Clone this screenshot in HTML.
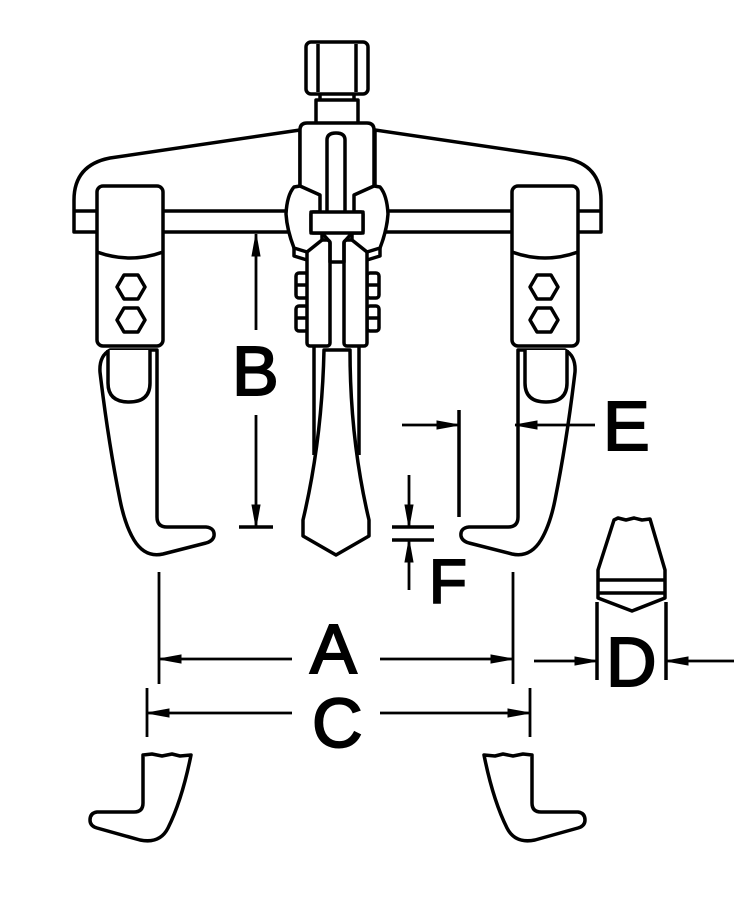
<!DOCTYPE html>
<html><head><meta charset="utf-8"><style>
html,body{margin:0;padding:0;background:#fff}
svg{display:block}
text{font-family:"Liberation Sans",sans-serif;fill:#000;stroke:#000;stroke-width:2}
</style></head><body>
<svg width="734" height="900" viewBox="0 0 734 900" xmlns="http://www.w3.org/2000/svg">
<defs>
<g id="half" fill="#fff" stroke="#000" stroke-width="3.5" stroke-linejoin="round">
  <path d="M300,130 L110,158 Q74,165 74,200 L74,232 L300,232 Z"/>
  <line x1="74" y1="211" x2="300" y2="211"/>
  <path d="M157,350 L157,517 Q157,527 167,527 L206,527 Q215,528 214,536 Q213,541 206,543 L163,554 Q145,558 134,540 Q125,525 120,500 Q108,440 100,372 Q99,356 110,350 Z"/>
  <path d="M108,350 L108,383 Q108,402 129,402 Q150,402 150,383 L150,350"/>
  <rect x="97" y="186" width="66" height="160" rx="6"/>
  <path d="M97,252 Q130,264 163,252" fill="none"/>
  <polygon points="117,287 124,275 138,275 145,287 138,299 124,299"/>
  <polygon points="117,320 124,308 138,308 145,320 138,332 124,332"/>
  <rect x="296" y="273" width="12" height="25" rx="3"/>
  <line x1="296" y1="285" x2="308" y2="285"/>
  <rect x="296" y="306" width="12" height="25" rx="3"/>
  <line x1="296" y1="318" x2="308" y2="318"/>
  <path d="M143,755 L143,803 Q143,812 134,812 L97,812 Q90,813 90,820 Q90,826 97,828 L140,840 Q160,844 168,828 Q182,800 191,755 L180,756 L172,754 L162,756 L152,754 Z"/>
</g>
</defs>

<use href="#half"/>
<use href="#half" transform="translate(675,0) scale(-1,1)"/>

<g fill="#fff" stroke="#000" stroke-width="3.5" stroke-linejoin="round">
  <rect x="320" y="92" width="34" height="9"/>
  <rect x="316" y="100" width="42" height="24"/>
  <rect x="306" y="42" width="62" height="52" rx="5"/>
  <line x1="318" y1="44" x2="318" y2="92"/>
  <line x1="356" y1="44" x2="356" y2="92"/>
  <path d="M300,190 L300,130 Q300,123 307,123 L367,123 Q374,123 374,130 L374,190"/>
  <path d="M314,345 L314,455"/>
  <path d="M359,345 L359,455"/>
  <rect x="307" y="240" width="23" height="106" rx="3"/>
  <rect x="344" y="240" width="23" height="106" rx="3"/>
  <path d="M300,186 L320,195 L320,212 L311,212 L311,233 L322,233 L322,240 L307,252 L294,248 Q287,230 286,214 Q287,195 294,187 Z"/>
  <path d="M374,186 L354,195 L354,212 L363,212 L363,233 L352,233 L352,240 L367,252 L380,248 Q387,230 388,214 Q387,195 380,187 Z"/>
  <path d="M294,248 L294,256 L307,260" fill="none"/>
  <path d="M380,248 L380,256 L367,260" fill="none"/>
  <path d="M327,212 L327,140 Q327,133 336,133 Q345,133 345,140 L345,212"/>
  <rect x="311" y="212" width="52" height="21" rx="2"/>
  <path d="M322,233 L330,242 L330,262 L344,262 L344,242 L352,233" fill="none"/>
  <path d="M324,350 Q322,440 303,520 L303,536 L336,555 L369,536 L369,520 Q350,440 350,350 Z"/>
  <path d="M614,520 L618,518 L626,520 L634,518 L642,520 L650,519 L665,570 L665,598 L632,611 L598,598 L598,570 Z"/>
  <line x1="598" y1="580" x2="665" y2="580"/>
  <line x1="598" y1="593" x2="665" y2="593"/>
</g>

<g stroke="#000" stroke-width="2.8" fill="none">
  <line x1="256" y1="234" x2="256" y2="330"/>
  <line x1="256" y1="415" x2="256" y2="527"/>
  <line x1="239" y1="527" x2="273" y2="527" stroke-width="3.5"/>
  <line x1="402" y1="425" x2="459" y2="425"/>
  <line x1="459" y1="410" x2="459" y2="517" stroke-width="3.5"/>
  <line x1="515" y1="425" x2="595" y2="425"/>
  <line x1="409" y1="475" x2="409" y2="527"/>
  <line x1="392" y1="527" x2="434" y2="527" stroke-width="3.5"/>
  <line x1="392" y1="540" x2="434" y2="540" stroke-width="3.5"/>
  <line x1="409" y1="540" x2="409" y2="590"/>
  <line x1="159" y1="572" x2="159" y2="684"/>
  <line x1="513" y1="572" x2="513" y2="684"/>
  <line x1="159" y1="659" x2="292" y2="659"/>
  <line x1="380" y1="659" x2="513" y2="659"/>
  <line x1="147" y1="688" x2="147" y2="737"/>
  <line x1="530" y1="688" x2="530" y2="737"/>
  <line x1="147" y1="713" x2="292" y2="713"/>
  <line x1="380" y1="713" x2="530" y2="713"/>
  <line x1="597" y1="602" x2="597" y2="680" stroke-width="3.5"/>
  <line x1="666" y1="602" x2="666" y2="680" stroke-width="3.5"/>
  <line x1="534" y1="661" x2="597" y2="661"/>
  <line x1="666" y1="661" x2="734" y2="661"/>
</g>

<g fill="#000" stroke="#000" stroke-width="1">
  <polygon points="256,234 252,256 260,256"/>
  <polygon points="256,527 252,505 260,505"/>
  <polygon points="459,425 437,421 437,429"/>
  <polygon points="515,425 537,421 537,429"/>
  <polygon points="409,527 405,505 413,505"/>
  <polygon points="409,540 405,562 413,562"/>
  <polygon points="159,659 181,655 181,663"/>
  <polygon points="513,659 491,655 491,663"/>
  <polygon points="147,713 169,709 169,717"/>
  <polygon points="530,713 508,709 508,717"/>
  <polygon points="597,661 575,657 575,665"/>
  <polygon points="666,661 688,657 688,665"/>
</g>

<g font-size="70">
  <text x="232" y="395">B</text>
  <text x="603" y="450">E</text>
  <text x="429" y="603" font-size="62">F</text>
  <text x="310" y="673">A</text>
  <text x="312" y="747">C</text>
  <text x="606" y="686">D</text>
</g>
</svg>
</body></html>
